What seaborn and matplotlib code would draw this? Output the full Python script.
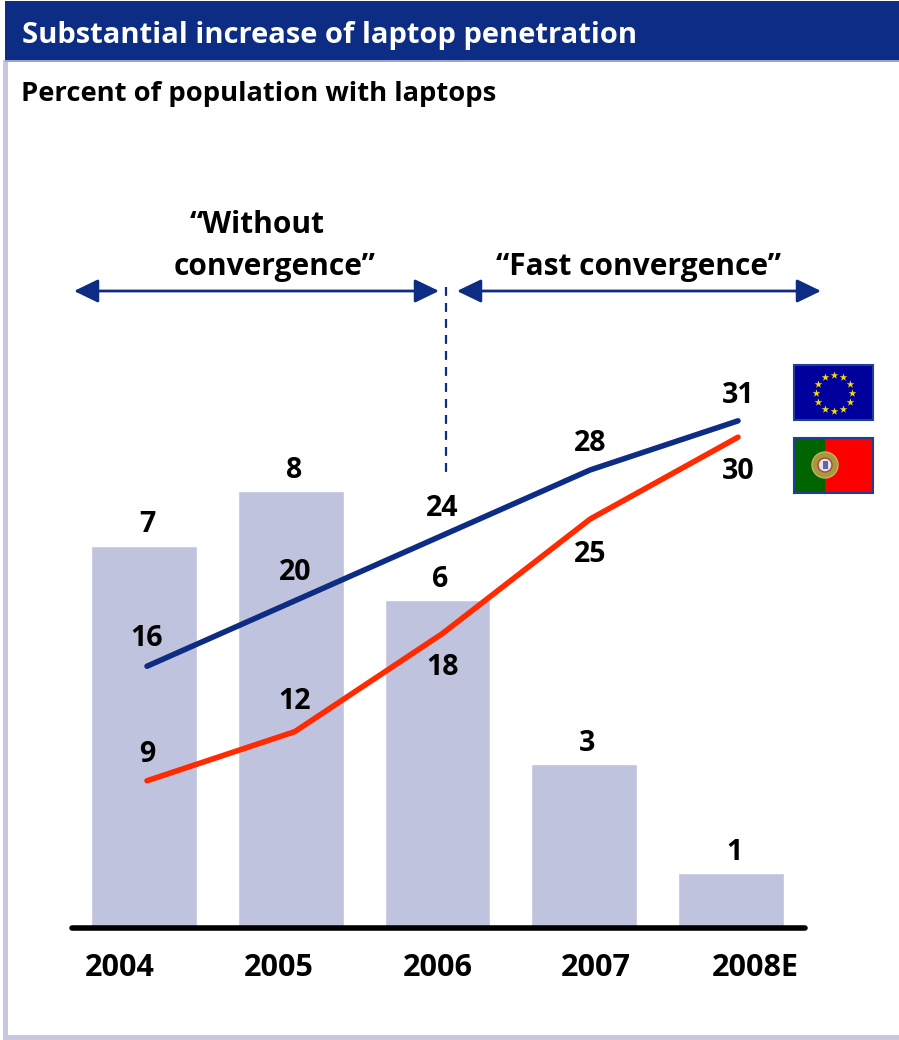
import numpy as np
import pandas as pd
import matplotlib
matplotlib.use("Agg")
import matplotlib.pyplot as plt
from matplotlib.patches import Rectangle, Circle, Wedge
import seaborn as sns

years = ["2004", "2005", "2006", "2007", "2008E"]
growth = [7, 8, 6, 3, 1]
eu_values = [16, 20, 24, 28, 31]
pt_values = [9, 12, 18, 25, 30]
title = "Substantial increase of laptop penetration"
subtitle = "Percent of population with laptops"

W, H = 899, 1040
NAVY = "#0c2d83"
RED = "#ff2a00"
BAR = "#c0c3de"
EDGE = "#c6c8e0"
FF = "Open Sans"

sns.set_theme(style="white")
plt.rcParams["font.family"] = [FF, "DejaVu Sans"]
plt.rcParams["font.weight"] = "bold"

fig = plt.figure(figsize=(W / 100, H / 100), dpi=100)

# pixel-space decoration layer
deco = fig.add_axes([0, 0, 1, 1])
deco.set_xlim(0, W)
deco.set_ylim(H, 0)
deco.axis("off")
deco.add_patch(Rectangle((3, 60), 5, 980, color=EDGE, lw=0))
deco.add_patch(Rectangle((3, 1035), 896, 5, color=EDGE, lw=0))
deco.add_patch(Rectangle((5, 1), 894, 60, color=NAVY, lw=0))
deco.add_patch(Rectangle((5, 60), 894, 2, color="#9aa3cf", lw=0))
deco.text(22, 35, title, color="white", fontsize=21, va="center", ha="left", fontweight="bold")
deco.text(21, 94, subtitle, color="black", fontsize=19.7, va="center", ha="left")

# plot area in pixels
L, R, TOP, BASE = 70, 807, 130, 928


def px_axes():
    a = fig.add_axes([L / W, 1 - BASE / H, (R - L) / W, (BASE - TOP) / H])
    a.patch.set_alpha(0)
    return a


# bars
ax = px_axes()
df = pd.DataFrame({"year": years, "value": growth})
sns.barplot(data=df, x="year", y="value", order=years, color=BAR, saturation=1, width=0.72, ax=ax)
ax.set_xlim((L - 144) / 146.75, (R - 144) / 146.75)
ax.set_ylim(0, (BASE - TOP) / 54.6)
ax.set_xlabel("")
ax.set_ylabel("")
ax.set_yticks([])
ax.tick_params(axis="x", length=0, labelbottom=False)
for s in ["top", "left", "right", "bottom"]:
    ax.spines[s].set_visible(False)
ax.plot([0.003, 0.997], [0, 0], transform=ax.transAxes, color="black", lw=4, solid_capstyle="round",
        clip_on=False, zorder=5)
for i, v in enumerate(growth):
    ax.annotate(str(v), (i, v), xytext=(3, 21), textcoords="offset pixels", ha="center", va="center",
                fontsize=20.5, color="black")

# year labels sit on a wider spacing than the bars
tick_ax = px_axes()
tick_ax.set_xlim((L - 120) / 158.75, (R - 120) / 158.75)
tick_ax.set_ylim(0, 1)
tick_ax.set_yticks([])
tick_ax.set_xticks(range(len(years)), years)
tick_ax.tick_params(axis="x", length=0, pad=18, labelsize=22, labelcolor="black")
for s in ["top", "left", "right", "bottom"]:
    tick_ax.spines[s].set_visible(False)

# lines
ax2 = px_axes()
lx = np.arange(len(years))
sns.lineplot(x=lx, y=eu_values, color=NAVY, lw=4, ax=ax2, solid_capstyle="round")
sns.lineplot(x=lx, y=pt_values, color=RED, lw=4, ax=ax2, solid_capstyle="round")
ax2.set_xlim((L - 147) / 147.75, (R - 147) / 147.75)
ax2.set_ylim(0, (BASE - TOP) / 16.36)
ax2.axis("off")
eu_off = [28, 28, 27, 26, 25]
pt_off = [26, 30, -34, -36, -34]
for i, (v, o) in enumerate(zip(eu_values, eu_off)):
    ax2.annotate(str(v), (i, v), xytext=(0, o), textcoords="offset pixels", ha="center", va="center",
                 fontsize=20.5, color="black")
for i, (v, o) in enumerate(zip(pt_values, pt_off)):
    ax2.annotate(str(v), (i, v), xytext=(0, o), textcoords="offset pixels", ha="center", va="center",
                 fontsize=20.5, color="black")

# top layer annotations
top = fig.add_axes([0, 0, 1, 1])
top.set_xlim(0, W)
top.set_ylim(H, 0)
top.axis("off")
top.patch.set_alpha(0)
arrow = dict(arrowstyle="<|-|>,head_length=0.62,head_width=0.3", color=NAVY, lw=2, mutation_scale=24,
             shrinkA=0, shrinkB=0)
top.annotate("", xy=(74, 291), xytext=(439, 291), arrowprops=arrow)
top.annotate("", xy=(457, 291), xytext=(821, 291), arrowprops=arrow)
top.plot([446, 446], [287, 478], color=NAVY, lw=1.6, ls=(0, (4, 3.2)))
top.text(257, 225, "\u201cWithout", fontsize=21.5, ha="center", va="center", color="black")
top.text(275, 267, "convergence\u201d", fontsize=21.5, ha="center", va="center", color="black")
top.text(639, 267, "\u201cFast convergence\u201d", fontsize=21.5, ha="center", va="center", color="black")

# flags
top.add_patch(Rectangle((794, 365), 79, 55, facecolor="#00009c", edgecolor="#1f3f96", lw=1.5))
ang = np.deg2rad(np.arange(0, 360, 30))
top.scatter(834 + 18 * np.cos(ang), 393 + 18 * np.sin(ang), marker="*", s=34, color="#f5d90a", lw=0, zorder=5)
top.add_patch(Rectangle((794, 438), 32, 55, facecolor="#006400", lw=0))
top.add_patch(Rectangle((825, 438), 48, 55, facecolor="#fc0000", lw=0))
top.add_patch(Rectangle((794, 438), 79, 55, fill=False, edgecolor="#1f3f96", lw=1.5))
top.add_patch(Circle((825, 465), 13, facecolor="#a59a3c", edgecolor="#c9b060", lw=1))
top.add_patch(Circle((825, 465), 7, facecolor="#e6e2e6", edgecolor="#b04040", lw=1))
top.add_patch(Rectangle((822.5, 461), 5, 8, facecolor="#5a6aa8", lw=0))

fig.savefig("out.png", dpi=100)
